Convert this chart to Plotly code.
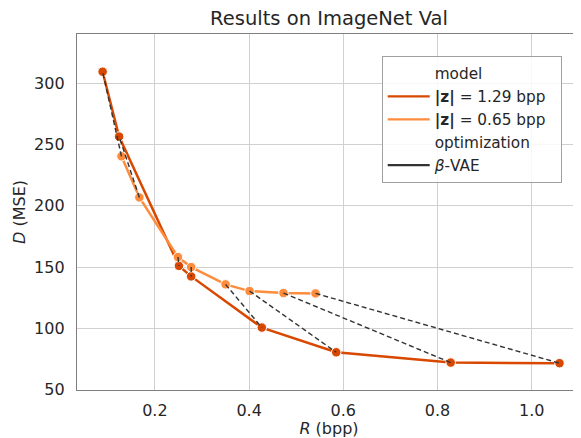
import plotly.graph_objects as go

# Data
dark_R = [0.089, 0.124, 0.251, 0.277, 0.427, 0.585, 0.828, 1.059]
dark_D = [309.6, 256.6, 151.0, 142.4, 100.6, 80.4, 72.0, 71.5]
light_R = [0.129, 0.167, 0.249, 0.277, 0.350, 0.401, 0.473, 0.541]
light_D = [240.5, 206.9, 158.2, 150.0, 135.9, 130.4, 128.8, 128.5]
x_ticks = [0.2, 0.4, 0.6, 0.8, 1.0]
y_ticks = [50, 100, 150, 200, 250, 300]

DARK = "#d94801"
LIGHT = "#fd8d3c"
TXT = "#262626"
FONT = "DejaVu Sans"

fig = go.Figure()

# model curves
for R, D, c in [(dark_R, dark_D, DARK), (light_R, light_D, LIGHT)]:
    fig.add_trace(go.Scatter(
        x=R, y=D, mode="lines+markers", showlegend=False,
        line=dict(color=c, width=2.5),
        marker=dict(size=9.5, color=c, line=dict(color="white", width=1)),
    ))

# dashed pairing lines (beta-VAE optimization)
dx, dy = [], []
for i in range(len(dark_R)):
    dx += [light_R[i], dark_R[i], None]
    dy += [light_D[i], dark_D[i], None]
fig.add_trace(go.Scatter(
    x=dx, y=dy, mode="lines", showlegend=False,
    line=dict(color="#333333", width=1.4, dash="5px,3px"),
))

# legend entries
def leg(name, color):
    fig.add_trace(go.Scatter(x=[None], y=[None], mode="lines", name=name,
                             line=dict(color=color, width=2.2)))

leg("model", "rgba(0,0,0,0)")
leg("<b>|z|</b> = 1.29 bpp&nbsp;&nbsp;", DARK)
leg("<b>|z|</b> = 0.65 bpp&nbsp;&nbsp;", LIGHT)
leg("optimization", "rgba(0,0,0,0)")
leg("<i>β</i>-VAE", "#333333")

# page body has an 8px margin: figure occupies page x 8..581, y 8..438
fig.update_layout(
    width=573, height=430,
    margin=dict(l=69, r=0, t=26, b=48, autoexpand=False),
    paper_bgcolor="white", plot_bgcolor="white",
    font=dict(family=FONT, color=TXT, size=16),
    title=dict(text="Results on ImageNet Val", x=0.5, xref="paper",
               xanchor="center", y=1 - 10 / 430, yanchor="middle",
               pad=dict(t=0, b=0),
               font=dict(size=19.5, color=TXT)),
    legend=dict(x=0.6046, y=0.938, xanchor="left", yanchor="top",
                bgcolor="rgba(255,255,255,0.85)", bordercolor="#a0a0a0",
                borderwidth=1, font=dict(size=15.3, color=TXT),
                itemwidth=42, tracegroupgap=0),
    xaxis=dict(range=[0.0346, 1.1047], tickvals=x_ticks,
               ticktext=[f"{v:.1f}" for v in x_ticks],
               showgrid=True, gridcolor="#d0d0d0", gridwidth=1,
               showline=True, linecolor="#7f7f7f", linewidth=1.3, mirror=True,
               zeroline=False, ticks="", ticklabelstandoff=6, automargin=False,
               title=dict(text="<i>R</i> (bpp)", standoff=5,
                          font=dict(size=16, color=TXT))),
    yaxis=dict(range=[49.6, 340.4], tickvals=y_ticks,
               showgrid=True, gridcolor="#d0d0d0", gridwidth=1,
               showline=True, linecolor="#7f7f7f", linewidth=1.3, mirror=False,
               zeroline=False, ticks="", ticklabelstandoff=8, automargin=False,
               title=dict(text="<i>D</i> (MSE)", standoff=4,
                          font=dict(size=16, color=TXT))),
)

fig.write_html("out.html")
